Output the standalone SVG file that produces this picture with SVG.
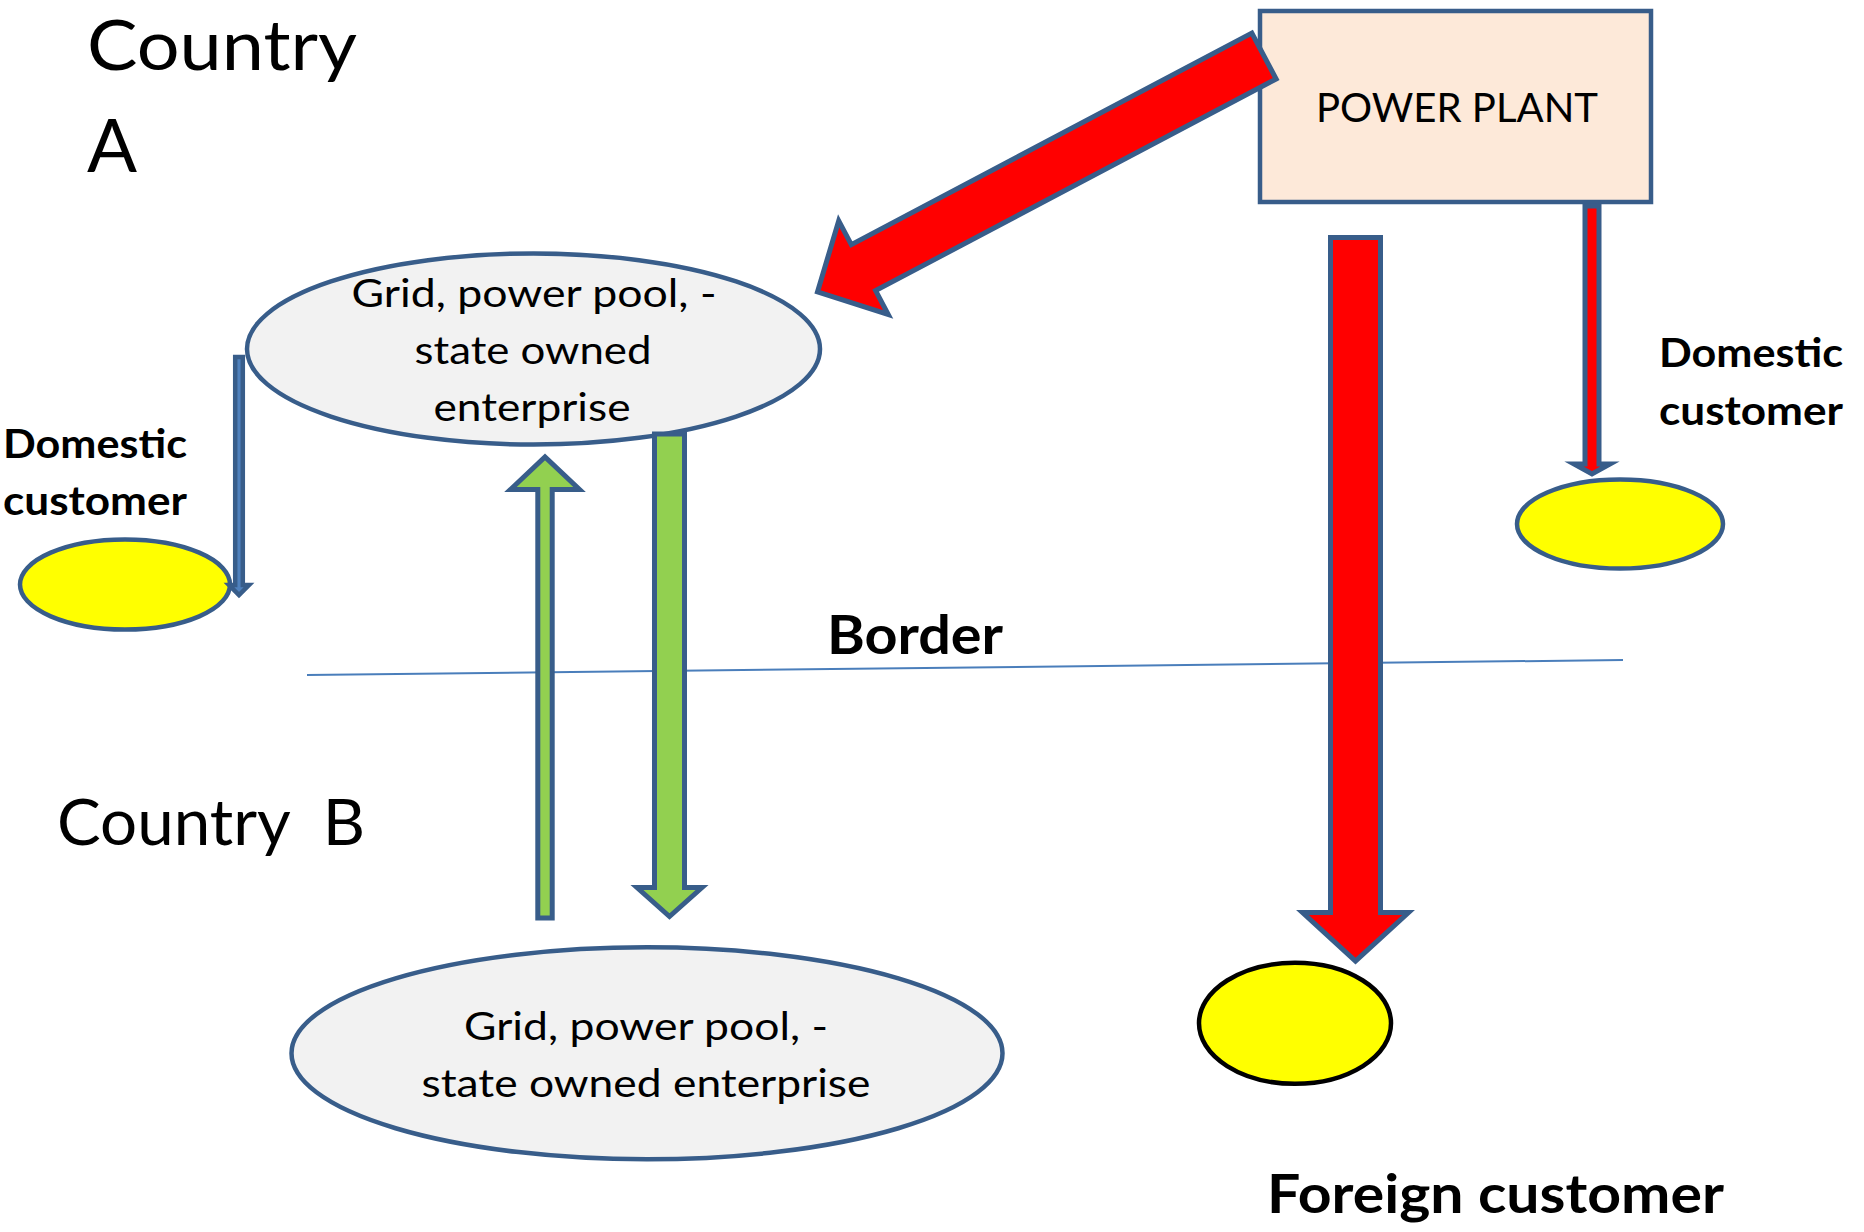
<svg xmlns="http://www.w3.org/2000/svg" width="1864" height="1232" viewBox="0 0 1864 1232">
  <style>
    .label { font-family: Lato, "Open Sans", "Liberation Sans", sans-serif; fill: #000000; }
    .bold { font-weight: bold; }
    .grid { fill: #F2F2F2; stroke: #385D8A; stroke-width: 4.5; }
    .cust { fill: #FFFF00; stroke: #385D8A; stroke-width: 4.5; }
    .plant { fill: #FDE9D9; stroke: #385D8A; stroke-width: 4.5; }
    .red { fill: #FF0000; stroke: #385D8A; stroke-width: 5; stroke-linejoin: miter; }
    .green { fill: #92D050; stroke: #385D8A; stroke-width: 5; stroke-linejoin: miter; }
    .blue { fill: #4F81BD; stroke: #385D8A; stroke-width: 4.5; stroke-linejoin: miter; }
    .border { stroke: #4A7EBB; stroke-width: 2; fill: none; }
  </style>

  <!-- region labels and the border line between the two countries -->
  <g id="country-a">
    <text class="label" x="87" y="70" font-size="70" textLength="270" lengthAdjust="spacingAndGlyphs">Country</text>
    <text class="label" x="87" y="172" font-size="74">A</text>
  </g>
  <g id="border">
    <line class="border" x1="307" y1="675" x2="1623" y2="660"/>
    <text class="label bold" x="827" y="654" font-size="54" textLength="176" lengthAdjust="spacingAndGlyphs">Border</text>
  </g>
  <g id="country-b">
    <text class="label" x="57" y="845" font-size="63" xml:space="preserve" textLength="308" lengthAdjust="spacingAndGlyphs">Country  B</text>
  </g>

  <!-- nodes -->
  <g id="grid-a">
    <ellipse class="grid" cx="533.5" cy="349" rx="286.5" ry="95.5"/>
    <text class="label" x="534" y="307" font-size="38" text-anchor="middle" textLength="365" lengthAdjust="spacingAndGlyphs">Grid, power pool, -</text>
    <text class="label" x="533" y="364" font-size="38" text-anchor="middle" textLength="237" lengthAdjust="spacingAndGlyphs">state owned</text>
    <text class="label" x="532" y="421" font-size="38" text-anchor="middle" textLength="197" lengthAdjust="spacingAndGlyphs">enterprise</text>
  </g>

  <g id="grid-b">
    <ellipse class="grid" cx="647" cy="1053.3" rx="355.5" ry="106"/>
    <text class="label" x="646" y="1040" font-size="38" text-anchor="middle" textLength="364" lengthAdjust="spacingAndGlyphs">Grid, power pool, -</text>
    <text class="label" x="646" y="1097" font-size="38" text-anchor="middle" textLength="449" lengthAdjust="spacingAndGlyphs">state owned enterprise</text>
  </g>

  <g id="power-plant">
    <rect class="plant" x="1260" y="11" width="391" height="191"/>
    <text class="label" x="1457" y="122" font-size="40" text-anchor="middle" textLength="282" lengthAdjust="spacingAndGlyphs">POWER PLANT</text>
  </g>

  <g id="domestic-customer-a">
    <ellipse class="cust" cx="125" cy="584.5" rx="105" ry="45"/>
    <text class="label bold" x="3" y="458" font-size="40" textLength="184" lengthAdjust="spacingAndGlyphs">Domestic</text>
    <text class="label bold" x="3" y="515" font-size="40" textLength="184" lengthAdjust="spacingAndGlyphs">customer</text>
  </g>

  <g id="domestic-customer-plant">
    <ellipse class="cust" cx="1620" cy="524" rx="103" ry="44.5"/>
    <text class="label bold" x="1659" y="367" font-size="40" textLength="184" lengthAdjust="spacingAndGlyphs">Domestic</text>
    <text class="label bold" x="1659" y="425" font-size="40" textLength="184" lengthAdjust="spacingAndGlyphs">customer</text>
  </g>

  <g id="foreign-customer">
    <ellipse cx="1295" cy="1023.3" rx="96" ry="60.5" fill="#FFFF00" stroke="#000000" stroke-width="4.5"/>
    <text class="label bold" x="1267" y="1213" font-size="53" textLength="457" lengthAdjust="spacingAndGlyphs">Foreign customer</text>
  </g>

  <!-- connectors: block arrows -->
  <g id="connectors">
    <!-- grid A to its domestic customer -->
    <polygon class="blue" points="235.2,357 242.8,357 242.8,585 249,585 239,595 229,585 235.2,585"/>
    <!-- grid B to grid A -->
    <polygon class="green" points="537.8,918 537.8,489.5 510.5,489.5 545,457 579.5,489.5 552.2,489.5 552.2,918"/>
    <!-- grid A to grid B -->
    <polygon class="green" points="654.5,434 684.5,434 684.5,887.5 702,887.5 669.5,916.5 637,887.5 654.5,887.5"/>
    <!-- power plant to grid A -->
    <polygon class="red" transform="translate(1264,56) rotate(152.15)" points="0,-26 453,-26 453,-53 505,0 453,53 453,26 0,26"/>
    <!-- power plant to foreign customer -->
    <polygon class="red" points="1330.5,237.5 1380.5,237.5 1380.5,912.5 1408.5,912.5 1355.5,961 1302.5,912.5 1330.5,912.5"/>
    <!-- power plant to its domestic customer -->
    <polygon class="red" points="1585,206 1599,206 1599,464 1610,464 1592,474 1574,464 1585,464"/>
  </g>
</svg>
